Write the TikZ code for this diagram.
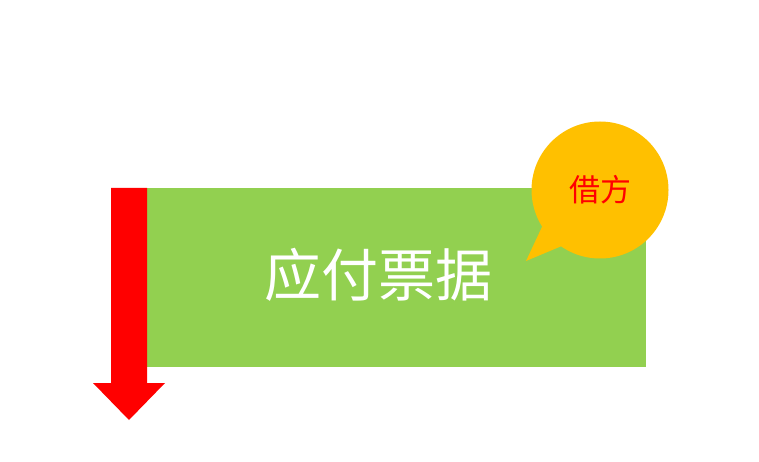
\documentclass[tikz,border=0pt]{standalone}
\usepackage{fontspec}
\newfontfamily\cjk{Noto Sans CJK SC}
\usetikzlibrary{positioning}
\usetikzlibrary{shapes.callouts}
\definecolor{boxgreen}{HTML}{92D050}
\definecolor{bubblegold}{HTML}{FFC000}

\begin{document}
\begin{tikzpicture}[
        x=1pt,y=-1pt,
        box/.style={rectangle,fill=boxgreen,inner sep=0pt,minimum width=499pt,minimum height=179pt},
        bubble/.style={ellipse callout,fill=bubblegold,inner sep=0pt,minimum size=137pt,callout pointer arc=23,text=red,font=\cjk\fontsize{31}{33}\selectfont},
        downarrow/.style={fill=red}
    ]
    \useasboundingbox (0,0) rectangle (759,462);

    \node[box,anchor=north west] (payable) at (147,188) {};
    \node[text=white,font=\cjk\fontsize{57}{60}\selectfont] (title) at (378,275) {应付票据};

    \coordinate (tip) at (526,261);
    \node[bubble,callout absolute pointer={(tip)}] (debit) at (600,190) {借方};

    % arrow down the left side of the box
    \fill[downarrow] (payable.north west) -- ++(-36,0) -- ++(0,195) -- ++(-18,0)
        -- ++(36,37) -- ++(36,-37) -- ++(-18,0) -- cycle;
\end{tikzpicture}
\end{document}
